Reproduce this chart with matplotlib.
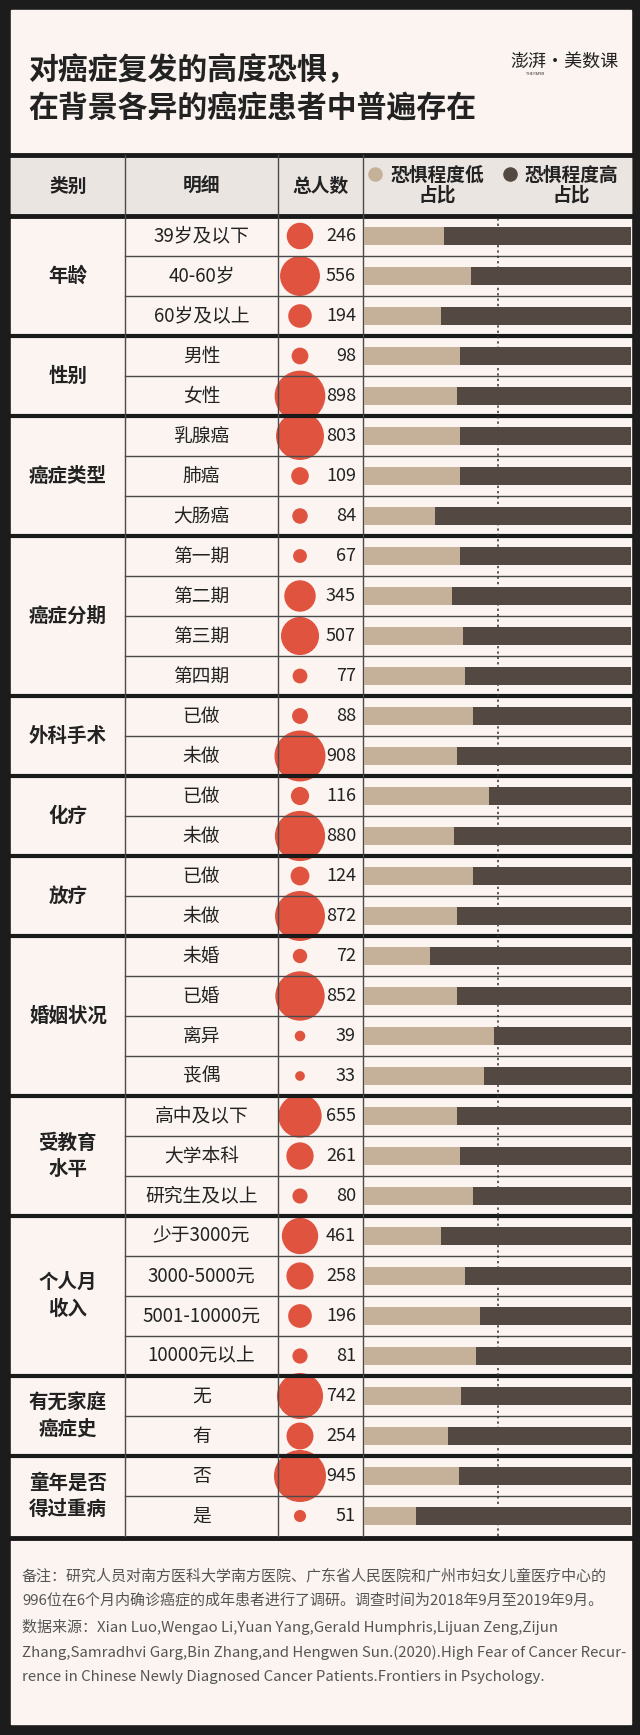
import numpy as np
import matplotlib
matplotlib.use('Agg')
from matplotlib import pyplot as plt
from matplotlib.patches import Rectangle

plt.rcParams['font.family'] = ['Noto Sans CJK SC', 'DejaVu Sans']

# ---- data ----
title = '对癌症复发的高度恐惧，\n在背景各异的癌症患者中普遍存在'
groups = ['年龄', '性别', '癌症类型', '癌症分期', '外科手术', '化疗', '放疗',
          '婚姻状况', '受教育\n水平', '个人月\n收入', '有无家庭\n癌症史', '童年是否\n得过重病']
group_sizes = [3, 2, 3, 4, 2, 2, 2, 4, 3, 4, 2, 2]
details = ['39岁及以下', '40-60岁', '60岁及以上',
           '男性', '女性',
           '乳腺癌', '肺癌', '大肠癌',
           '第一期', '第二期', '第三期', '第四期',
           '已做', '未做',
           '已做', '未做',
           '已做', '未做',
           '未婚', '已婚', '离异', '丧偶',
           '高中及以下', '大学本科', '研究生及以上',
           '少于3000元', '3000-5000元', '5001-10000元', '10000元以上',
           '无', '有',
           '否', '是']
totals = [246, 556, 194, 98, 898, 803, 109, 84, 67, 345, 507, 77, 88, 908,
          116, 880, 124, 872, 72, 852, 39, 33, 655, 261, 80, 461, 258, 196,
          81, 742, 254, 945, 51]
low_share = [0.300, 0.400, 0.287, 0.358, 0.347, 0.358, 0.358, 0.267,
             0.358, 0.328, 0.370, 0.378, 0.410, 0.347, 0.469, 0.338,
             0.410, 0.347, 0.248, 0.347, 0.488, 0.448, 0.347, 0.358,
             0.408, 0.287, 0.378, 0.436, 0.419, 0.365, 0.315, 0.357, 0.195]
legend_labels = ['恐惧程度低\n占比', '恐惧程度高\n占比']
headers = ['类别', '明细', '总人数']
note = ('备注：研究人员对南方医科大学南方医院、广东省人民医院和广州市妇女儿童医疗中心的\n'
        '996位在6个月内确诊癌症的成年患者进行了调研。调查时间为2018年9月至2019年9月。\n'
        '数据来源：Xian Luo,Wengao Li,Yuan Yang,Gerald Humphris,Lijuan Zeng,Zijun\n'
        'Zhang,Samradhvi Garg,Bin Zhang,and Hengwen Sun.(2020).High Fear of Cancer Recur-\n'
        'rence in Chinese Newly Diagnosed Cancer Patients.Frontiers in Psychology.')

# ---- colours ----
bg_dark = '#1c1c1c'
card = '#fbf4f0'
head_bg = '#ebe5e2'
beige = '#c5b199'
brown = '#544843'
red = '#e0533f'
line_c = '#4a4a4a'
text_c = '#222222'

W, H = 640, 1735
fig = plt.figure(figsize=(W / 100, H / 100), dpi=100, facecolor=bg_dark)
ax = fig.add_axes([0, 0, 1, 1])
ax.set_xlim(0, W)
ax.set_ylim(H, 0)
ax.axis('off')

L, R = 11, 631
c1, c2, c3 = 125, 278, 363
top_head, body_top = 155, 216
row_h = 40
n = len(details)
body_bot = body_top + n * row_h

# card backgrounds
ax.add_patch(Rectangle((L, 10), R - L, body_bot - 10, color=card, zorder=0))
ax.add_patch(Rectangle((L, top_head), R - L, body_top - top_head, color=head_bg, zorder=0))
ax.add_patch(Rectangle((L, body_bot + 4), R - L, 1724 - body_bot - 4, color=card, zorder=0))

# title + logo
ax.text(28, 89, title, fontsize=21.5, fontweight='bold', color=text_c,
        va='center', ha='left', linespacing=1.35)
ax.text(618, 62, '澎湃·美数课', fontsize=13, color=text_c, ha='right', va='center')
ax.text(535, 74, 'THE PAPER', fontsize=2.5, color=text_c, ha='center', va='center')

# header
hc = [(L + c1) / 2, (c1 + c2) / 2, (c2 + c3) / 2]
for x, h in zip(hc, headers):
    ax.text(x, 186, h, fontsize=13.5, fontweight='bold', color=text_c, ha='center', va='center')
for xdot, xt, lab, col in [(375, 437, legend_labels[0], beige), (510, 571, legend_labels[1], brown)]:
    ax.scatter([xdot], [174], s=110, color=col, zorder=3, linewidths=0)
    ax.text(xt, 185, lab, fontsize=13.5, fontweight='bold', color=text_c,
            ha='center', va='center', linespacing=1.05)

# rows
ycent = body_top + row_h * (np.arange(n) + 0.5)
for y, d, t in zip(ycent, details, totals):
    ax.text((c1 + c2) / 2, y, d, fontsize=13.5, color=text_c, ha='center', va='center')
    ax.text(356, y, str(t), fontsize=13, color=text_c, ha='right', va='center', zorder=4)

# circles, area proportional to total
d_px = 52 * np.sqrt(np.array(totals) / 945)
ax.scatter(np.full(n, 300), ycent, s=(d_px * 0.72) ** 2, color=red, linewidths=0, zorder=2)

# group labels and separators
bounds = np.concatenate([[0], np.cumsum(group_sizes)])
for g, a, b in zip(groups, bounds[:-1], bounds[1:]):
    yc = body_top + row_h * (a + b) / 2
    ax.text((L + c1) / 2, yc, g, fontsize=14, fontweight='bold', color=text_c,
            ha='center', va='center', linespacing=1.45)
for i in range(1, n):
    y = body_top + row_h * i
    if i in bounds:
        ax.plot([L, R], [y, y], color='#1a1a1a', lw=3, zorder=5)
    else:
        ax.plot([c1, R], [y, y], color=line_c, lw=1, zorder=5)
for y in [top_head, body_top, body_bot + 2]:
    ax.plot([L, R], [y, y], color='#1a1a1a', lw=3.5, zorder=5)
for x in [c1, c2, c3]:
    ax.plot([x, x], [top_head, body_bot], color=line_c, lw=1, zorder=5)

# footer
ax.text(22, 1626, note, fontsize=10.8, color='#555555', ha='left', va='center', linespacing=1.87)

# bars
bx = fig.add_axes([364 / W, 1 - body_bot / H, (R - 364) / W, n * row_h / H])
bx.set_xlim(0, 1)
bx.set_ylim(n, 0)
bx.axis('off')
pos = np.arange(n) + 0.5
low = np.array(low_share)
bx.barh(pos, low, height=0.44, color=beige, linewidth=0)
bx.barh(pos, 1 - low, left=low, height=0.44, color=brown, linewidth=0)
bx.axvline(0.5, color='#333333', lw=1.1, ls=(0, (1.5, 2)), zorder=0)

fig.savefig('out.png', dpi=100, facecolor=bg_dark)
